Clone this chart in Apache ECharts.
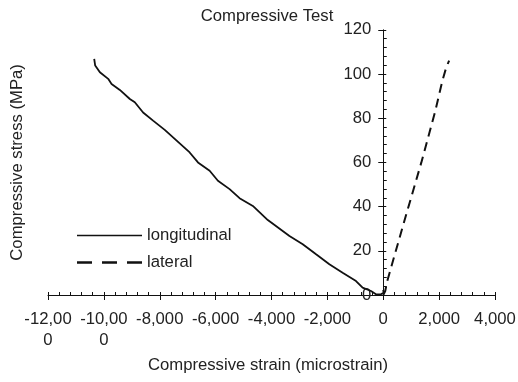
<!DOCTYPE html>
<html>
<head>
<meta charset="utf-8">
<script src="https://cdn.jsdelivr.net/npm/echarts@6/dist/echarts.min.js"></script>
<style>
html,body{margin:0;padding:0;background:#fff;}
#chart{width:518px;height:382px;}
</style>
</head>
<body>
<div id="chart"></div>
<script>
// ---- data (strain in microstrain, stress in MPa) ----
const chartTitle = 'Compressive Test';
const xAxisName = 'Compressive strain (microstrain)';
const yAxisName = 'Compressive stress (MPa)';
const seriesNames = ['longitudinal', 'lateral'];

const longitudinalStrain = [-10346, -10311, -10143, -9846, -9725, -9429, -9071, -8893, -8596, -8239, -7821,
  -6929, -6632, -6214, -5918, -5500, -5143, -4668, -4132, -3357, -2882, -2404, -1929, -1454, -975,
  -739, -439, -261, -82, 11, 0];
const longitudinalStress = [106.8, 103.8, 100.8, 97.8, 95.5, 92.8, 88.7, 87.2, 82.6, 78.9, 74.7,
  64.5, 60.0, 56.2, 51.7, 47.9, 43.8, 40.3, 33.9, 26.7, 23.0, 18.4, 13.9, 10.1, 6.3,
  3.3, 1.8, 0.3, 0.3, 1.0, 2.3];

const lateralStrain = [0, 71, 143, 721, 1364, 1857, 2118, 2239, 2357];
const lateralStress = [0, 1.8, 6.3, 32, 60, 83, 97, 102.3, 106.1];

const xTicks = {min: -12000, max: 4000, interval: 2000};
const yTicks = {min: 0, max: 120, interval: 20};

// ---- build ----
function pair(xs, ys) { return xs.map((x, i) => [x, ys[i]]); }
function fmtX(v) {
  const a = Math.abs(v).toString().replace(/\B(?=(\d{3})+(?!\d))/g, ',');
  let s = (v < 0 ? '-' : '') + a;
  if (s.length > 6) s = s.slice(0, 6) + '\n' + s.slice(6);
  return s;
}

const W = 518, GL = 48, GR = 23;
// shift the y axis so that it crosses the x axis at strain 0
const yOffset = -((0 - xTicks.min) / (xTicks.max - xTicks.min)) * (W - GL - GR);

const FONT = 'Liberation Sans, Arial, sans-serif';
const FS = 16.7;
const TXT = '#222';
const AX = '#111';

const chart = echarts.init(document.getElementById('chart'), null, {renderer: 'canvas'});
chart.setOption({
  animation: false,
  backgroundColor: '#fff',
  textStyle: {fontFamily: FONT},
  title: {
    text: chartTitle, left: 262, top: 3, textAlign: 'center',
    textStyle: {fontFamily: FONT, fontSize: FS, fontWeight: 'normal', color: TXT}
  },
  grid: {left: GL, right: GR, top: 29.8, bottom: 87, containLabel: false, outerBoundsMode: 'none'},
  legend: {
    orient: 'vertical', left: 77, top: 225.5, padding: 0,
    itemWidth: 65, itemHeight: 2.6, itemGap: 7, symbolKeepAspect: false,
    textStyle: {fontFamily: FONT, fontSize: FS, color: TXT, lineHeight: 20},
    data: [
      {name: seriesNames[0], icon: 'path://M0,0h0.01v3h-0.01z M0,0.65h65v1.7h-65z', itemStyle: {color: '#111'}},
      {name: seriesNames[1], icon: 'path://M0,0h15v3h-15z M25,0h15v3h-15z M50,0h15v3h-15z', itemStyle: {color: '#111'}}
    ]
  },
  xAxis: [{
    type: 'value', position: 'bottom', min: xTicks.min, max: xTicks.max, interval: xTicks.interval,
    name: xAxisName, nameLocation: 'middle', nameGap: 62,
    nameTextStyle: {fontFamily: FONT, fontSize: FS, color: TXT, padding: [0, 7, 0, 0]},
    axisLine: {show: true, onZero: false, lineStyle: {color: AX, width: 1}},
    axisTick: {show: true, inside: true, length: 3, lineStyle: {color: AX}},
    minorTick: {show: true, splitNumber: 5, length: 3, lineStyle: {color: AX}},
    splitLine: {show: false},
    axisLabel: {margin: 14, fontFamily: FONT, fontSize: FS, color: TXT, lineHeight: 21, formatter: fmtX}
  }, {
    type: 'value', position: 'bottom', min: xTicks.min, max: xTicks.max, interval: xTicks.interval,
    axisLine: {show: false, onZero: false},
    axisTick: {show: true, inside: false, length: 5, lineStyle: {color: AX}},
    splitLine: {show: false},
    axisLabel: {show: false}
  }],
  yAxis: [{
    type: 'value', position: 'left', offset: yOffset, min: yTicks.min, max: yTicks.max, interval: yTicks.interval,
    name: yAxisName, nameLocation: 'middle', nameGap: 357, nameRotate: 90,
    nameTextStyle: {fontFamily: FONT, fontSize: FS, color: TXT},
    axisLine: {show: true, onZero: false, lineStyle: {color: AX, width: 1}},
    axisTick: {show: true, inside: true, length: 3, lineStyle: {color: AX}},
    minorTick: {show: true, splitNumber: 5, length: 3.5, lineStyle: {color: AX}},
    splitLine: {show: false},
    axisLabel: {margin: 12, fontFamily: FONT, fontSize: FS, color: TXT}
  }, {
    type: 'value', position: 'left', offset: yOffset, min: yTicks.min, max: yTicks.max, interval: yTicks.interval,
    axisLine: {show: false, onZero: false},
    axisTick: {show: true, inside: false, length: 5, lineStyle: {color: AX}},
    splitLine: {show: false},
    axisLabel: {show: false}
  }],
  series: [{
    name: seriesNames[0], type: 'line', xAxisIndex: 0, yAxisIndex: 0,
    data: pair(longitudinalStrain, longitudinalStress),
    showSymbol: false, symbol: 'none', smooth: false,
    lineStyle: {color: '#111', width: 1.8, type: 'solid'},
    itemStyle: {color: '#111'}
  }, {
    name: seriesNames[1], type: 'line', xAxisIndex: 0, yAxisIndex: 0,
    data: pair(lateralStrain, lateralStress),
    showSymbol: false, symbol: 'none', smooth: false,
    lineStyle: {color: '#111', width: 2, type: [9, 6]},
    itemStyle: {color: '#111'}
  }]
});
</script>
</body>
</html>
